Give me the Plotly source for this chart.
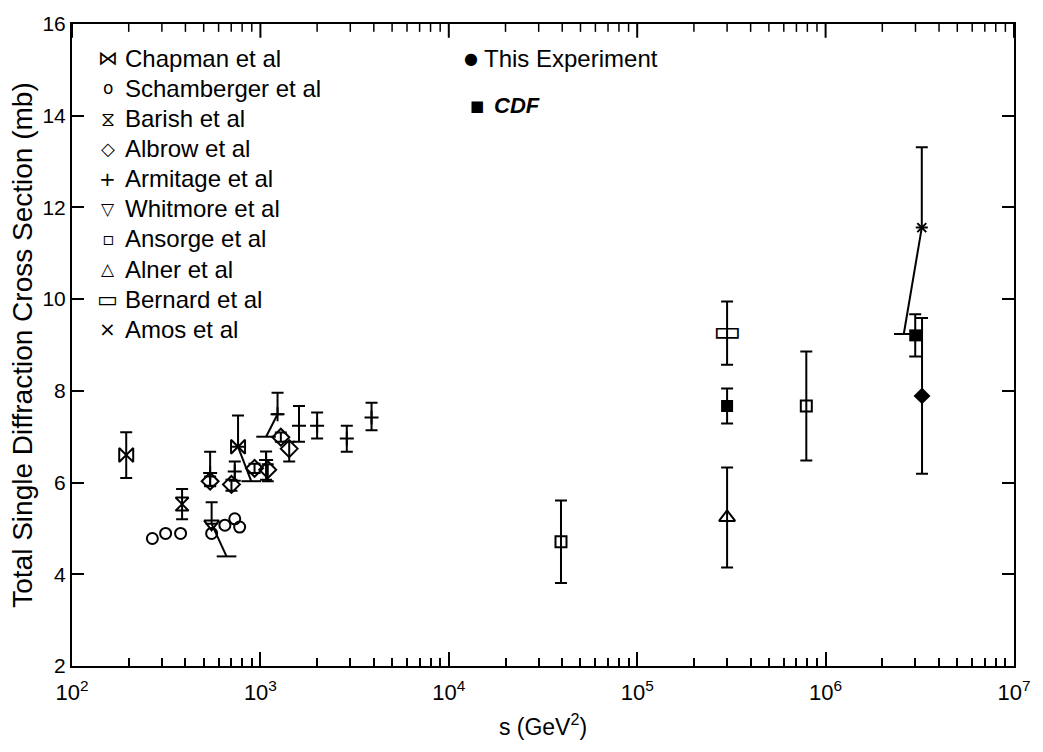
import plotly.graph_objects as go

# ---------------- data (s in GeV^2, sigma in mb) ----------------
chap_s = [194, 761]
chap_v = [6.60, 6.78]
chap_up = [0.50, 0.68]
chap_dn = [0.50, 0.0]

scham_s = [267, 314, 377, 551, 648, 731, 776]
scham_v = [4.78, 4.89, 4.89, 4.89, 5.07, 5.21, 5.03]

barish_s = [384]
barish_v = [5.53]
barish_err = [0.33]

albrow_s = [541, 702, 931, 1094, 1284, 1422]
albrow_v = [6.03, 5.96, 6.31, 6.28, 6.99, 6.74]
albrow_up = [0.10, 0.10, 0.10, 0.12, 0.10, 0.15]
albrow_dn = [0.10, 0.14, 0.10, 0.25, 0.10, 0.28]

armit_s = [541, 731, 1072, 1233, 1603, 2000, 2875, 3890]
armit_v = [6.21, 6.24, 6.49, 7.49, 7.24, 7.24, 6.96, 7.42]
armit_up = [0.46, 0.22, 0.19, 0.47, 0.43, 0.29, 0.28, 0.32]
armit_dn = [0.29, 0.20, 0.43, 0.0, 0.35, 0.28, 0.29, 0.28]

whit_s = [551]
whit_v = [5.10]
whit_up = [0.47]

ansorge_s = [3.94e4, 7.9e5]
ansorge_v = [4.71, 7.67]
ansorge_err = [0.90, 1.19]

alner_s = [3.0e5]
alner_v = [5.24]
alner_err = [1.09]

bernard_s = [3.0e5]
bernard_v = [9.26]
bernard_err = [0.69]

amos_s = [3.24e6]
amos_v = [11.56]
amos_up = [1.75]

cdf_s = [3.0e5, 2.99e6]
cdf_v = [7.67, 9.21]
cdf_err = [0.38, 0.46]

e710_s = [3.25e6]
e710_v = [7.89]
e710_err = [1.70]

# displaced lower error bars drawn as slanted leaders: (start s, start v, end s, end v)
leader_s0 = [761, 551, 1233, 3.24e6]
leader_v0 = [6.78, 5.10, 7.49, 11.56]
leader_s1 = [894, 661, 1072, 2.6e6]
leader_v1 = [6.03, 4.39, 7.00, 9.24]

legend_labels = ["Chapman et al", "Schamberger et al", "Barish et al", "Albrow et al",
                 "Armitage et al", "Whitmore et al", "Ansorge et al", "Alner et al",
                 "Bernard et al", "Amos et al"]
legend_glyphs = ["⋈", "o", "⧖", "◇", "+", "▽", "▫", "△", "▭", "×"]
legend_gsize = [20, 17, 20, 18, 20, 17, 18, 17, 22, 20]

x_tickvals = [1e2, 1e3, 1e4, 1e5, 1e6, 1e7]
x_ticktext = ["10<sup>2</sup>", "10<sup>3</sup>", "10<sup>4</sup>",
              "10<sup>5</sup>", "10<sup>6</sup>", "10<sup>7</sup>"]
x_minor_vals = [m * d for d in [1e2, 1e3, 1e4, 1e5, 1e6] for m in range(2, 10)]

# ---------------- figure ----------------
W, H = 1043, 752
ML, MR, MT, MB = 72, 18, 13, 86
FONT = "Liberation Sans"

fig = go.Figure()

def err(arr, arrm=None, width=6):
    d = dict(type="data", array=arr, color="black", thickness=2, width=width, visible=True)
    if arrm is not None:
        d["symmetric"] = False
        d["arrayminus"] = arrm
    return d

mk_line = dict(color="black", width=2)

# leaders
for a, b, c, d in zip(leader_s0, leader_v0, leader_s1, leader_v1):
    fig.add_trace(go.Scatter(x=[a, c], y=[b, d], mode="lines",
                             line=dict(color="black", width=2), showlegend=False, hoverinfo="skip"))
fig.add_trace(go.Scatter(x=leader_s1, y=leader_v1, mode="markers",
                         marker=dict(symbol="line-ew-open", size=14, color="black", line=mk_line),
                         showlegend=False, hoverinfo="skip"))

fig.add_trace(go.Scatter(x=chap_s, y=chap_v, mode="markers", error_y=err(chap_up, chap_dn),
                         marker=dict(symbol="bowtie-open", size=14, color="black", line=mk_line)))
fig.add_trace(go.Scatter(x=scham_s, y=scham_v, mode="markers",
                         marker=dict(symbol="circle-open", size=11, color="black", line=mk_line)))
fig.add_trace(go.Scatter(x=barish_s, y=barish_v, mode="markers", error_y=err(barish_err),
                         marker=dict(symbol="hourglass-open", size=13, color="black", line=mk_line)))
fig.add_trace(go.Scatter(x=albrow_s, y=albrow_v, mode="markers", error_y=err(albrow_up, albrow_dn),
                         marker=dict(symbol="diamond-open", size=13, color="black", line=mk_line)))
fig.add_trace(go.Scatter(x=armit_s, y=armit_v, mode="markers", error_y=err(armit_up, armit_dn),
                         marker=dict(symbol="cross-thin-open", size=10, color="black", line=mk_line)))
fig.add_trace(go.Scatter(x=whit_s, y=whit_v, mode="markers", error_y=err(whit_up, [0.0]),
                         marker=dict(symbol="triangle-down-open", size=13, color="black", line=mk_line)))
fig.add_trace(go.Scatter(x=ansorge_s, y=ansorge_v, mode="markers", error_y=err(ansorge_err),
                         marker=dict(symbol="square-open", size=11, color="black", line=mk_line)))
fig.add_trace(go.Scatter(x=alner_s, y=alner_v, mode="markers", error_y=err(alner_err),
                         marker=dict(symbol="triangle-up-open", size=14, color="black", line=mk_line)))
fig.add_trace(go.Scatter(x=bernard_s, y=bernard_v, mode="markers", error_y=err(bernard_err),
                         marker=dict(symbol="line-ew", size=1, color="rgba(0,0,0,0)")))
fig.add_trace(go.Scatter(x=bernard_s, y=bernard_v, mode="text", text=["▭"],
                         textposition="middle center",
                         textfont=dict(family="DejaVu Sans", size=30, color="black")))
fig.add_trace(go.Scatter(x=amos_s, y=amos_v, mode="markers", error_y=err(amos_up, [0.0]),
                         marker=dict(symbol="x-thin-open", size=9, color="black", line=mk_line)))
fig.add_trace(go.Scatter(x=cdf_s, y=cdf_v, mode="markers", error_y=err(cdf_err),
                         marker=dict(symbol="square", size=12, color="black")))
fig.add_trace(go.Scatter(x=e710_s, y=e710_v, mode="markers", error_y=err(e710_err),
                         marker=dict(symbol="diamond", size=13, color="black")))

# ---------------- legend as annotations ----------------
pw = W - ML - MR
ph = H - MT - MB
def px2paper(px, py):
    return (px - ML) / pw, (H - MB - py) / ph

row0, pitch = 48, 30.6
ann = []
for i, (g, lab, gs) in enumerate(zip(legend_glyphs, legend_labels, legend_gsize)):
    py = row0 + i * pitch
    gx, gy = px2paper(108, py)
    tx, ty = px2paper(124, py)
    ann.append(dict(x=gx, y=gy, xref="paper", yref="paper", text=g, showarrow=False,
                    xanchor="center", yanchor="middle",
                    font=dict(family="DejaVu Sans", size=gs, color="black")))
    ann.append(dict(x=tx, y=ty, xref="paper", yref="paper", text=lab, showarrow=False,
                    xanchor="left", yanchor="middle",
                    font=dict(family=FONT, size=24, color="black")))

gx, gy = px2paper(476, 48)
ann.append(dict(x=gx, y=gy, xref="paper", yref="paper", text="●", showarrow=False,
                xanchor="center", yanchor="middle", font=dict(family="DejaVu Sans", size=16, color="black")))
tx, ty = px2paper(487, 48)
ann.append(dict(x=tx, y=ty, xref="paper", yref="paper", text="This Experiment", showarrow=False,
                xanchor="left", yanchor="middle", font=dict(family=FONT, size=24, color="black")))
gx, gy = px2paper(482, 96)
ann.append(dict(x=gx, y=gy, xref="paper", yref="paper", text="■", showarrow=False,
                xanchor="center", yanchor="middle", font=dict(family="DejaVu Sans", size=15, color="black")))
tx, ty = px2paper(497, 96)
ann.append(dict(x=tx, y=ty, xref="paper", yref="paper", text="<i><b>CDF</b></i>", showarrow=False,
                xanchor="left", yanchor="middle", font=dict(family=FONT, size=22, color="black")))

# top-edge tick marks (mirrors of the bottom axis ticks), placed through the x scale
for v in x_tickvals:
    fig.add_shape(type="line", xref="x", yref="paper", x0=v, x1=v, y0=1, y1=1 - 14 / ph,
                  line=dict(color="black", width=2))
for v in x_minor_vals:
    fig.add_shape(type="line", xref="x", yref="paper", x0=v, x1=v, y0=1, y1=1 - 8 / ph,
                  line=dict(color="black", width=1.5))

fig.update_layout(
    width=W, height=H,
    margin=dict(l=ML, r=MR, t=MT, b=MB),
    paper_bgcolor="white", plot_bgcolor="white",
    showlegend=False,
    font=dict(family=FONT, size=21, color="black"),
    annotations=ann,
    xaxis=dict(type="log", range=[2, 7], tickvals=x_tickvals, ticktext=x_ticktext,
               ticks="inside", ticklen=14, tickwidth=2, tickcolor="black",
               minor=dict(ticks="inside", ticklen=8, tickwidth=1.5, tickcolor="black",
                          dtick="D1", showgrid=False),
               showgrid=False, zeroline=False,
               showline=True, linewidth=2, linecolor="black", mirror=True,
               tickfont=dict(size=22), ticklabelstandoff=6,
               title=dict(text="s (GeV<sup>2</sup>)", font=dict(size=23), standoff=14)),
    yaxis=dict(range=[2, 16], dtick=2, ticks="inside", ticklen=12, tickwidth=2,
               tickcolor="black", showline=True, linewidth=2, linecolor="black",
               mirror="ticks", showgrid=False, zeroline=False,
               tickfont=dict(size=21),
               title=dict(text="Total Single Diffraction Cross Section (mb)",
                          font=dict(size=28), standoff=2)),
)

fig.write_html("out.html")
